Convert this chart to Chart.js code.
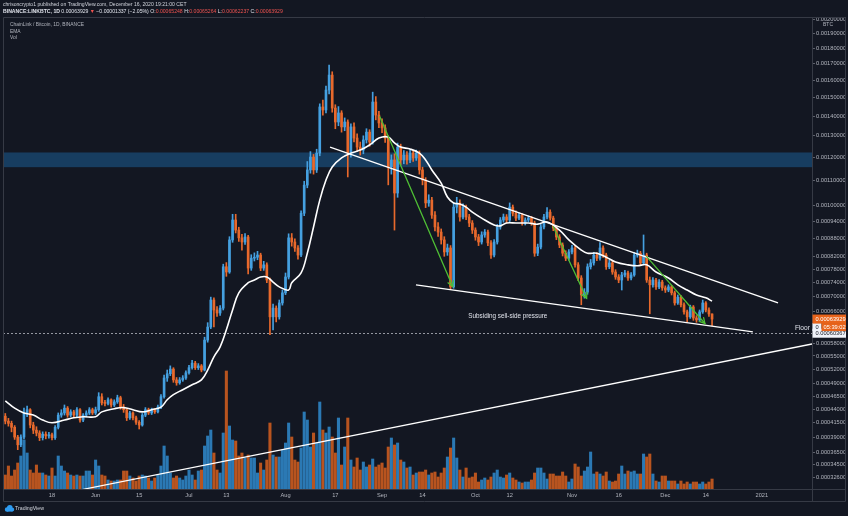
<!DOCTYPE html>
<html>
<head>
<meta charset="utf-8">
<script src="https://cdn.jsdelivr.net/npm/chart.js@4.4.1/dist/chart.umd.min.js"></script>
<style>
  html, body { margin: 0; padding: 0; background: #131722; }
  canvas { display: block; }
</style>
</head>
<body>
<canvas id="chart" width="848" height="516"></canvas>
<script>
// Prices are in units of 0.00001 BTC (LINK/BTC daily, 3 May - 16 Dec 2020, day 0 = 3 May)
const firstOpen = 42.7;
const closes = [
  41.8, 41.4, 40.7, 39.0, 37.7, 39.0, 43.3, 43.9, 41.1, 40.2,
  39.7, 38.9, 39.5, 39.2, 39.4, 38.9, 40.7, 42.9, 43.3, 44.2,
  42.9, 43.5, 42.9, 43.9, 42.0, 42.9, 43.3, 43.9, 43.3, 43.9,
  46.4, 45.2, 45.1, 45.8, 44.8, 45.4, 46.2, 44.4, 43.9, 42.4,
  43.3, 42.4, 41.6, 41.1, 42.9, 43.9, 43.3, 43.9, 43.5, 44.4,
  46.4, 50.2, 51.1, 52.1, 49.8, 49.2, 49.8, 50.2, 51.3, 52.4,
  53.4, 52.4, 52.8, 51.9, 58.7, 61.9, 69.0, 66.3, 65.5, 66.8,
  78.7, 77.1, 87.4, 94.4, 90.8, 88.1, 86.7, 88.4, 78.3, 81.4,
  81.7, 82.4, 78.3, 79.3, 74.7, 64.5, 66.8, 64.5, 68.2, 71.0,
  75.6, 88.1, 86.7, 84.7, 82.4, 96.9, 107.9, 114.3, 120.0, 114.3,
  121.8, 144.8, 143.2, 154.2, 163.0, 144.2, 136.9, 141.6, 134.4, 136.9,
  121.8, 134.4, 128.9, 124.6, 123.2, 128.0, 131.8, 127.0, 147.5, 140.5,
  136.4, 133.9, 128.9, 115.6, 118.7, 104.7, 124.6, 118.7, 120.9, 118.7,
  121.8, 119.6, 121.8, 114.3, 110.0, 100.8, 101.9, 96.2, 91.9, 90.1,
  87.4, 83.4, 84.7, 72.7, 99.2, 100.8, 95.5, 99.2, 95.5, 93.3,
  90.8, 88.4, 86.7, 89.1, 90.1, 86.4, 82.4, 86.7, 91.9, 94.4,
  95.5, 94.4, 99.2, 96.9, 95.1, 96.2, 93.3, 94.4, 95.1, 93.3,
  83.0, 85.0, 91.9, 95.5, 97.3, 95.1, 91.5, 88.4, 85.7, 83.0,
  81.4, 83.4, 84.7, 79.3, 75.3, 70.4, 71.2, 78.7, 79.9, 82.4,
  81.4, 84.7, 82.4, 78.7, 79.9, 77.1, 75.6, 74.7, 76.2, 76.8,
  75.3, 76.2, 82.4, 83.0, 79.9, 82.4, 74.7, 73.3, 74.7, 72.7,
  74.1, 72.4, 71.8, 72.7, 71.0, 68.2, 69.8, 67.7, 65.8, 64.5,
  67.1, 64.2, 63.7, 65.8, 68.2, 66.3, 65.248, 63.929
];
const highs = [
  43.2, 42.3, 41.8, 41.0, 39.3, 39.4, 44.2, 44.6, 44.1, 41.6,
  40.8, 40.1, 39.9, 39.9, 39.8, 39.7, 41.0, 43.3, 43.9, 44.8,
  44.5, 43.9, 43.8, 44.3, 44.1, 43.2, 43.7, 44.3, 44.2, 44.4,
  47.2, 47.0, 45.7, 46.2, 46.0, 45.8, 46.7, 46.5, 44.9, 44.1,
  43.6, 43.5, 42.7, 41.9, 43.2, 44.3, 44.2, 44.2, 44.1, 44.8,
  46.8, 50.8, 51.9, 52.8, 52.4, 50.3, 50.3, 50.7, 51.7, 52.9,
  54.0, 53.8, 53.3, 53.1, 59.4, 63.0, 69.8, 69.6, 67.2, 67.5,
  79.5, 80.0, 88.5, 96.5, 96.5, 91.8, 89.3, 89.6, 89.0, 82.5,
  83.1, 83.6, 83.0, 80.4, 79.9, 75.3, 67.9, 67.4, 69.0, 71.8,
  76.8, 89.5, 89.6, 87.8, 85.5, 97.8, 109.5, 118.0, 122.5, 121.2,
  123.6, 146.5, 148.6, 156.5, 169.2, 165.0, 146.0, 145.0, 142.8, 139.0,
  138.0, 136.0, 136.5, 131.0, 127.0, 130.0, 133.5, 133.0, 153.0, 150.5,
  142.5, 138.5, 135.5, 130.0, 121.0, 121.5, 126.5, 126.0, 123.0, 122.5,
  123.5, 123.0, 123.2, 122.8, 115.5, 111.0, 104.0, 103.0, 97.5, 93.5,
  91.2, 88.5, 86.0, 85.5, 101.0, 103.0, 102.0, 100.5, 100.0, 96.5,
  94.2, 91.6, 89.3, 90.2, 91.0, 90.8, 87.2, 87.5, 92.8, 95.3,
  96.6, 96.4, 100.8, 100.0, 97.8, 97.0, 96.8, 95.2, 95.9, 95.7,
  94.0, 86.0, 92.8, 96.5, 99.0, 98.2, 95.8, 92.2, 89.2, 86.4,
  83.8, 84.2, 85.6, 85.3, 80.0, 76.0, 72.2, 79.6, 81.0, 83.3,
  83.2, 86.5, 85.4, 83.0, 80.8, 80.4, 77.8, 76.3, 77.0, 77.6,
  77.4, 76.9, 83.3, 84.0, 83.6, 89.1, 83.0, 75.6, 75.4, 75.2,
  74.8, 74.6, 73.0, 73.3, 73.1, 71.5, 70.4, 70.2, 68.2, 66.3,
  67.6, 67.5, 64.8, 66.3, 69.0, 68.6, 66.9, 65.264
];
const lows = [
  41.3, 40.9, 39.9, 38.6, 36.9, 37.4, 38.7, 42.6, 40.6, 39.6,
  39.2, 38.4, 38.5, 38.7, 38.8, 38.5, 38.6, 40.4, 42.5, 42.9,
  42.5, 42.6, 42.5, 42.6, 41.6, 41.7, 42.6, 43.0, 43.0, 43.0,
  43.6, 44.8, 44.6, 44.8, 44.4, 44.5, 45.1, 44.0, 43.4, 41.9,
  42.1, 42.0, 41.2, 40.4, 40.9, 42.6, 43.0, 43.0, 43.2, 43.3,
  44.1, 46.1, 49.5, 50.7, 49.3, 48.7, 48.9, 49.5, 49.9, 51.0,
  52.1, 52.0, 52.0, 51.5, 51.7, 58.2, 61.5, 61.9, 64.6, 64.9,
  66.3, 75.8, 76.7, 86.6, 89.8, 86.9, 84.0, 85.9, 76.5, 77.6,
  80.5, 80.9, 77.5, 77.6, 73.9, 60.0, 61.2, 63.2, 63.9, 67.6,
  70.5, 75.0, 85.3, 83.6, 81.1, 81.9, 96.0, 106.8, 112.9, 112.5,
  113.2, 120.6, 140.5, 141.6, 152.0, 142.0, 133.5, 135.0, 131.8, 132.5,
  111.3, 120.0, 127.0, 122.5, 120.9, 121.5, 126.5, 125.0, 126.0, 138.0,
  134.0, 131.5, 126.8, 108.0, 112.5, 90.8, 103.0, 116.5, 117.0, 116.8,
  117.5, 118.0, 118.5, 112.5, 108.0, 99.0, 99.5, 95.0, 90.5, 88.6,
  86.0, 82.0, 82.3, 72.0, 72.3, 97.0, 94.0, 94.8, 94.5, 92.0,
  89.6, 87.3, 85.5, 86.0, 88.3, 85.5, 81.3, 81.8, 86.0, 91.1,
  93.6, 93.4, 93.8, 95.9, 94.2, 94.5, 92.5, 92.6, 93.8, 92.5,
  82.0, 82.2, 84.4, 91.2, 94.8, 94.3, 90.6, 87.5, 84.8, 82.1,
  80.6, 80.8, 82.8, 78.6, 74.5, 67.7, 69.5, 70.6, 78.0, 79.2,
  80.6, 80.8, 81.6, 77.9, 78.1, 76.4, 74.9, 73.9, 71.8, 75.6,
  74.6, 74.7, 75.8, 81.7, 79.2, 79.3, 74.0, 65.3, 72.6, 72.0,
  72.2, 71.7, 71.1, 71.3, 70.4, 67.6, 67.8, 67.1, 65.2, 63.2,
  64.1, 63.6, 63.1, 63.3, 65.4, 65.8, 64.6, 62.237
];
// volume, million LINK
const volumes = [
  1.4, 2.3, 1.3, 1.9, 2.6, 3.3, 4.9, 3.6, 1.9, 1.6,
  2.4, 1.6, 1.6, 1.4, 1.3, 2.1, 1.3, 3.3, 2.3, 1.8,
  1.6, 1.4, 1.3, 1.4, 1.3, 1.3, 1.8, 1.8, 1.4, 2.9,
  2.3, 1.4, 1.3, 0.9, 0.8, 0.8, 0.9, 0.9, 1.8, 1.8,
  1.3, 1.1, 0.8, 1.3, 1.4, 1.3, 1.1, 0.8, 1.1, 1.4,
  2.3, 4.3, 3.3, 1.6, 1.1, 1.3, 1.1, 0.9, 1.3, 1.9,
  1.4, 0.9, 1.8, 1.9, 4.3, 5.3, 5.9, 3.6, 1.9, 1.6,
  5.6, 11.8, 6.3, 4.9, 4.8, 3.3, 3.6, 3.1, 3.4, 3.1,
  3.1, 1.6, 2.6, 1.9, 2.9, 6.6, 3.4, 3.2, 3.2, 3.9,
  4.6, 6.6, 5.2, 2.9, 2.7, 4.1, 7.7, 6.9, 4.2, 5.6,
  4.6, 8.7, 5.9, 5.6, 6.2, 5.2, 3.6, 7.1, 2.4, 4.2,
  7.1, 2.9, 2.2, 3.1, 1.9, 2.7, 2.2, 2.4, 3.0, 2.2,
  2.4, 2.6, 2.1, 4.2, 5.1, 4.4, 4.6, 2.9, 2.7, 2.1,
  2.2, 1.4, 1.6, 1.7, 1.7, 1.9, 1.4, 1.6, 1.7, 1.2,
  1.6, 2.1, 3.2, 4.1, 5.1, 3.1, 1.9, 1.2, 2.1, 1.1,
  1.2, 1.6, 0.7, 0.9, 1.1, 0.9, 1.2, 1.6, 1.9, 1.2,
  1.1, 1.4, 1.6, 1.1, 0.9, 0.7, 0.6, 0.7, 0.7, 0.9,
  1.6, 2.1, 2.1, 1.6, 1.0, 1.5, 1.5, 1.3, 1.3, 1.7,
  1.3, 0.7, 1.0, 2.5, 2.2, 1.3, 1.8, 2.2, 3.7, 1.5,
  1.7, 1.5, 1.3, 1.7, 0.8, 0.7, 0.8, 1.5, 2.3, 1.5,
  1.8, 1.7, 1.8, 1.5, 1.5, 3.5, 3.2, 3.5, 1.5, 0.8,
  0.7, 1.3, 1.3, 0.8, 0.8, 0.8, 0.5, 0.8, 0.5, 0.7,
  0.5, 0.7, 0.7, 0.5, 0.7, 0.5, 0.7, 1.0
];
// EMA
const emaDays = [
  0, 3, 6, 9, 12, 15, 19, 22, 25, 29,
  31, 35, 38, 41, 44, 47, 50, 52, 54, 57,
  60, 63, 65, 67, 69, 71, 73, 75, 78, 80,
  82, 84, 86, 88, 91, 92, 95, 97, 99, 101,
  103, 105, 108, 111, 114, 117, 120, 123, 125, 127,
  130, 133, 135, 137, 140, 142, 144, 146, 148, 150,
  153, 157, 159, 161, 164, 168, 171, 174, 178, 181,
  185, 187, 190, 193, 196, 200, 203, 206, 209, 213,
  216, 219, 222, 225, 227
];
const emaValues = [
  45.6, 44.2, 43.3, 42.9, 42.0, 41.5, 42.0, 42.4, 42.6, 42.6,
  43.5, 44.1, 44.3, 43.9, 43.5, 43.9, 44.4, 45.8, 46.8, 47.8,
  48.8, 49.8, 51.9, 54.8, 57.1, 61.2, 66.3, 71.0, 73.9, 74.7,
  75.6, 75.6, 74.1, 72.7, 71.8, 73.9, 76.8, 83.0, 91.9, 101.9,
  110.0, 115.6, 119.6, 121.8, 123.2, 125.6, 128.9, 129.4, 126.6, 124.6,
  123.7, 121.8, 118.7, 114.3, 108.7, 103.1, 100.8, 100.4, 99.2, 97.3,
  95.1, 92.6, 92.3, 93.3, 93.3, 93.3, 92.9, 93.7, 90.8, 87.4,
  84.0, 83.0, 83.0, 81.7, 80.2, 79.3, 79.0, 79.3, 77.1, 75.3,
  73.3, 71.8, 70.4, 69.6, 68.7
];

// axis ticks
const priceTicks = [200, 190, 180, 170, 160, 150, 140, 130, 120, 110, 100, 94, 88, 82, 78, 74, 70, 66,
  58, 55, 52, 49, 46.5, 44, 41.5, 39, 36.5, 34.5, 32.6];
const dateTickDays = [15, 29, 43, 59, 71, 90, 106, 121, 134, 151, 162, 182, 197, 212, 225, 243];
const dateTickLabels = ['18', 'Jun', '15', 'Jul', '13', 'Aug', '17', 'Sep', '14', 'Oct', '12', 'Nov', '16', 'Dec', '14', '2021'];

// drawings (day, price)
const upperTrendDays = [104.3, 248.2], upperTrendPrices = [124.6, 68.2];
const lowerTrendDays = [131.9, 240.1], lowerTrendPrices = [73.3, 60.7];
const supportTrendDays = [25.05, 259.1], supportTrendPrices = [30.85, 57.77];
const arrowFromDays = [120.3, 176.0, 206.0], arrowFromPrices = [139.6, 92.0, 81.9];
const arrowToDays = [143.7, 186.7, 224.7], arrowToPrices = [72.8, 69.5, 62.8];
const bandPrices = [115.5, 122.1];
const floorPrice = 60.367;
const noteDay = 161.4, notePrice = 64.7;
const floorLabelDay = 253.6, floorLabelPrice = 61.7;

const FAMILY = '"Liberation Sans", Arial, sans-serif';
const UP = '#45a0e0', DOWN = '#e8692c';
const VOL_UP = '#2b79b4', VOL_DOWN = '#b8541f';
const RED = '#ef5350';

const opens = closes.map((c, i) => (i === 0 ? firstOpen : closes[i - 1]));
const isUp = closes.map((c, i) => c >= opens[i]);

// TradingView-style log axis: log(price + offset)
const OFFSET = 10;
class ShiftedLogScale extends Chart.LinearScale {
  configure() {
    super.configure();
    this._lmin = Math.log(this.min + OFFSET);
    this._lrange = Math.log(this.max + OFFSET) - this._lmin;
  }
  getPixelForValue(value) {
    if (value === null || value === undefined) return NaN;
    return this.getPixelForDecimal((Math.log(value + OFFSET) - this._lmin) / this._lrange);
  }
  getValueForPixel(pixel) {
    return Math.exp(this._lmin + this.getDecimalForPixel(pixel) * this._lrange) - OFFSET;
  }
}
ShiftedLogScale.id = 'shiftedLog';
ShiftedLogScale.defaults = Chart.LinearScale.defaults;
Chart.register(ShiftedLogScale);

function fitFont(ctx, text, width, weight = 'normal') {
  ctx.font = `${weight} 10px ${FAMILY}`;
  const size = 10 * width / ctx.measureText(text).width;
  return `${weight} ${size.toFixed(2)}px ${FAMILY}`;
}

const overlay = {
  id: 'overlay',
  beforeDatasetsDraw(chart) {
    const { ctx, chartArea: a, scales: { y } } = chart;
    ctx.save();
    const top = y.getPixelForValue(bandPrices[1]), bot = y.getPixelForValue(bandPrices[0]);
    ctx.fillStyle = 'rgba(33,150,243,0.3)';
    ctx.fillRect(a.left, top, a.right - a.left, bot - top);
    const yf = Math.round(y.getPixelForValue(floorPrice)) + 0.5;
    ctx.strokeStyle = '#9598a1';
    ctx.lineWidth = 1;
    ctx.setLineDash([2, 2]);
    ctx.beginPath(); ctx.moveTo(a.left, yf); ctx.lineTo(a.right, yf); ctx.stroke();
    ctx.restore();
  },
  afterDatasetsDraw(chart) {
    const { ctx, scales: { x, y } } = chart;
    ctx.save();
    // green arrows
    ctx.strokeStyle = '#4fbf35';
    ctx.lineWidth = 1.3;
    ctx.lineCap = 'round';
    arrowFromDays.forEach((d, k) => {
      const x0 = x.getPixelForValue(d), y0 = y.getPixelForValue(arrowFromPrices[k]);
      const x1 = x.getPixelForValue(arrowToDays[k]), y1 = y.getPixelForValue(arrowToPrices[k]);
      const ang = Math.atan2(y1 - y0, x1 - x0);
      ctx.beginPath(); ctx.moveTo(x0, y0); ctx.lineTo(x1, y1); ctx.stroke();
      ctx.beginPath();
      ctx.moveTo(x1 - 6 * Math.cos(ang - 0.5), y1 - 6 * Math.sin(ang - 0.5));
      ctx.lineTo(x1, y1);
      ctx.lineTo(x1 - 6 * Math.cos(ang + 0.5), y1 - 6 * Math.sin(ang + 0.5));
      ctx.stroke();
    });
    // text notes
    ctx.fillStyle = '#e0e3eb';
    ctx.textBaseline = 'middle';
    const note = 'Subsiding sell-side pressure';
    ctx.font = fitFont(ctx, note, 79);
    ctx.textAlign = 'center';
    ctx.fillText(note, x.getPixelForValue(noteDay), y.getPixelForValue(notePrice));
    ctx.textAlign = 'left';
    ctx.font = fitFont(ctx, 'Floor', 15);
    ctx.fillText('Floor', x.getPixelForValue(floorLabelDay), y.getPixelForValue(floorLabelPrice));
    ctx.restore();
  },
  afterDraw(chart) {
    const { ctx, chartArea: a, scales: { y } } = chart;
    ctx.save();
    ctx.textBaseline = 'middle';
    ctx.textAlign = 'left';
    // frame
    ctx.strokeStyle = '#363a45';
    ctx.lineWidth = 1;
    ctx.beginPath();
    ctx.rect(3.5, a.top + 0.5, 842, 484);
    ctx.moveTo(3.5, a.bottom + 0.5); ctx.lineTo(845.5, a.bottom + 0.5);
    ctx.moveTo(a.right + 0.5, a.top); ctx.lineTo(a.right + 0.5, 501.5);
    ctx.stroke();

    // header
    const line1 = 'chrisoncrypto1 published on TradingView.com, December 16, 2020 19:21:00 CET';
    ctx.fillStyle = '#d1d4dc';
    ctx.font = fitFont(ctx, line1, 184);
    ctx.fillText(line1, 3, 5);
    const parts = [
      ['BINANCE:LINKBTC, 1D ', '#e0e3eb', true], ['0.00063929 ', '#e0e3eb'], ['\u25BC ', RED],
      ['\u22120.00001337 (\u22122.05%) ', '#e0e3eb'], ['O:', '#e0e3eb'], ['0.00065248 ', RED],
      ['H:', '#e0e3eb'], ['0.00065264 ', RED], ['L:', '#e0e3eb'], ['0.00062237 ', RED],
      ['C:', '#e0e3eb'], ['0.00063929', RED]
    ];
    const f2 = fitFont(ctx, parts.map(p => p[0]).join(''), 279);
    let px = 3;
    parts.forEach(([t, c, b]) => {
      ctx.font = b ? f2.replace('normal', 'bold') : f2;
      ctx.fillStyle = c;
      ctx.fillText(t, px, 12);
      px += ctx.measureText(t).width;
    });

    // legend
    ctx.fillStyle = '#b2b5be';
    const lg = 'ChainLink / Bitcoin, 1D, BINANCE';
    ctx.font = fitFont(ctx, lg, 74);
    ctx.fillText(lg, 10, 25);
    ctx.fillText('EMA', 10, 32);
    ctx.fillText('Vol', 10, 38);

    // BTC currency tag
    ctx.fillStyle = '#131722';
    ctx.fillRect(821, 21, 14, 7);
    ctx.fillStyle = '#b2b5be';
    ctx.font = `5px ${FAMILY}`;
    ctx.fillText('BTC', 823, 24.5);

    // price labels on the axis
    const ax = a.right + 0.5, aw = 848 - ax - 2;
    const yl = y.getPixelForValue(closes[closes.length - 1]);
    const yf = y.getPixelForValue(floorPrice);
    const lf = `5.7px ${FAMILY}`;
    ctx.font = lf;
    ctx.fillStyle = '#f0f3fa';
    ctx.fillRect(ax, yf - 4.5, aw, 9);
    ctx.fillRect(ax, yl + 4, 9, 8);
    ctx.fillStyle = '#131722';
    ctx.fillText((floorPrice / 1e5).toFixed(8), ax + 3, yf + 0.5);
    ctx.fillText('0', ax + 3, yl + 8);
    ctx.fillStyle = '#e8641b';
    ctx.fillRect(ax, yl - 4.5, aw, 9);
    ctx.fillRect(ax + 9, yl + 4, aw - 9, 8);
    ctx.fillStyle = '#ffffff';
    ctx.fillText((closes[closes.length - 1] / 1e5).toFixed(8), ax + 3, yl + 0.5);
    ctx.fillText('05:39:02', ax + 11, yl + 8);

    // TradingView logo
    ctx.fillStyle = '#2e9bf0';
    ctx.beginPath();
    ctx.arc(7, 509.5, 2.2, 0, Math.PI * 2);
    ctx.arc(9.8, 507.8, 2.8, 0, Math.PI * 2);
    ctx.arc(12.2, 509.6, 2, 0, Math.PI * 2);
    ctx.fill();
    ctx.fillRect(7, 509.5, 5.5, 2.1);
    ctx.fillStyle = '#d1d4dc';
    ctx.font = fitFont(ctx, 'TradingView', 29);
    ctx.fillText('TradingView', 15, 509);
    ctx.restore();
  }
};

const days = closes.map((c, i) => i);
const tickFont = { size: 5.7, family: FAMILY };

new Chart(document.getElementById('chart'), {
  type: 'bar',
  data: {
    datasets: [
      {
        label: 'Vol',
        yAxisID: 'yv',
        data: days.map(i => ({ x: i, y: volumes[i] })),
        backgroundColor: days.map(i => (isUp[i] ? VOL_UP : VOL_DOWN)),
        barThickness: 2.4,
        grouped: false,
        order: 6
      },
      {
        label: 'Wicks',
        data: days.map(i => ({ x: i, y: [lows[i], highs[i]] })),
        backgroundColor: days.map(i => (isUp[i] ? UP : DOWN)),
        barThickness: 1,
        grouped: false,
        order: 5
      },
      {
        label: 'Bodies',
        data: days.map(i => ({ x: i, y: [opens[i], closes[i]] })),
        backgroundColor: days.map(i => (isUp[i] ? UP : DOWN)),
        barThickness: 2,
        minBarLength: 1,
        grouped: false,
        order: 4
      },
      {
        type: 'line',
        label: 'EMA',
        data: emaDays.map((d, k) => ({ x: d, y: emaValues[k] })),
        borderColor: '#ffffff',
        borderWidth: 1.6,
        tension: 0.4,
        pointRadius: 0,
        order: 3
      },
      {
        type: 'line',
        data: upperTrendDays.map((d, k) => ({ x: d, y: upperTrendPrices[k] })),
        borderColor: '#ffffff', borderWidth: 1.3, pointRadius: 0, order: 2
      },
      {
        type: 'line',
        data: lowerTrendDays.map((d, k) => ({ x: d, y: lowerTrendPrices[k] })),
        borderColor: '#ffffff', borderWidth: 1.3, pointRadius: 0, order: 2
      },
      {
        type: 'line',
        data: supportTrendDays.map((d, k) => ({ x: d, y: supportTrendPrices[k] })),
        borderColor: '#ffffff', borderWidth: 1.3, pointRadius: 0, order: 2
      }
    ]
  },
  options: {
    responsive: false,
    animation: false,
    devicePixelRatio: 1,
    layout: { autoPadding: false, padding: { left: 3, top: 17, right: 0, bottom: 15 } },
    plugins: { legend: { display: false }, tooltip: { enabled: false } },
    scales: {
      x: {
        type: 'linear',
        min: -0.74,
        max: 259.1,
        offset: false,
        bounds: 'data',
        afterBuildTicks: s => { s.ticks = dateTickDays.map(v => ({ value: v })); },
        afterFit: s => { s.height = 12; },
        grid: { display: false, drawTicks: false },
        border: { display: false },
        ticks: {
          autoSkip: false, maxRotation: 0, padding: 3, color: '#b2b5be', font: tickFont,
          callback: (v, i) => dateTickLabels[i]
        }
      },
      y: {
        type: 'shiftedLog',
        position: 'right',
        min: 30.89,
        max: 201.8,
        bounds: 'data',
        afterBuildTicks: s => { s.ticks = priceTicks.map(v => ({ value: v })); },
        afterFit: s => { s.width = 36; },
        grid: { drawOnChartArea: false, drawTicks: true, tickLength: 3, color: '#5d606b' },
        border: { display: false },
        ticks: {
          autoSkip: false, padding: 1, color: '#b2b5be', font: tickFont,
          callback: v => (v / 1e5).toFixed(8)
        }
      },
      // full pane height = 47.2 M LINK, so the tallest bar reaches about a quarter up
      yv: { display: false, min: 0, max: 47.2 }
    }
  },
  plugins: [overlay]
});
</script>
</body>
</html>
